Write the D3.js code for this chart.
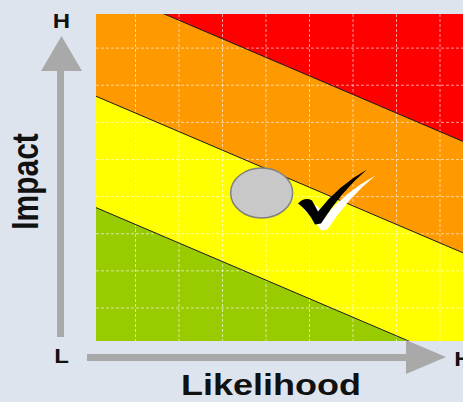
<!DOCTYPE html>
<html>
<head>
<meta charset="utf-8">
<script src="https://cdn.jsdelivr.net/npm/d3@7"></script>
<style>
  html, body { margin: 0; padding: 0; background: #dee4ed; }
  svg { display: block; }
</style>
</head>
<body>
<svg id="chart" width="463" height="402"></svg>
<script>
// Risk matrix: likelihood (x) versus impact (y), both on a 0-10 / 0-9 grid.
const likelihoodGrid = [1, 2, 3, 4, 5, 6, 7, 8];
const impactGrid = [1, 2, 3, 4, 5, 6, 7, 8];

// Zones are bounded by diagonal lines impact = floor - 0.5 * likelihood
const zoneNames = ["Low", "Medium", "High", "Extreme"];
const zoneFloors = [-20, 3.75, 6.75, 9.75];
const zoneCeilings = [3.75, 6.75, 9.75, 40];
const zoneSlope = -0.5;

// Assessed risk and its acceptance mark
const riskLikelihood = [3.9];
const riskImpact = [4.1];
const acceptLikelihood = [5.15];
const acceptImpact = [3.25];

const axisEndLabels = ["L", "H"];
const axisTitles = ["Likelihood", "Impact"];

const zoneColor = d3.scaleOrdinal()
  .domain(zoneNames)
  .range(["#99cc00", "#ffff00", "#ff9900", "#ff0000"]);

const svg = d3.select("#chart");

const plot = { left: 96, top: 14, right: 480, bottom: 341 };
const x = d3.scaleLinear().domain([0, 10]).range([92, 527]);
const y = d3.scaleLinear().domain([0, 9]).range([345.1, 11]);

svg.append("defs").append("clipPath").attr("id", "plotClip")
  .append("rect")
  .attr("x", plot.left).attr("y", plot.top)
  .attr("width", plot.right - plot.left).attr("height", plot.bottom - plot.top);

const g = svg.append("g").attr("clip-path", "url(#plotClip)");

// coloured zones
const xs = [0, 10];
zoneNames.forEach((name, i) => {
  const area = d3.area()
    .x(d => x(d))
    .y0(d => y(zoneFloors[i] + zoneSlope * d))
    .y1(d => y(zoneCeilings[i] + zoneSlope * d));
  g.append("path")
    .attr("d", area(xs))
    .attr("fill", zoneColor(name));
});

// dashed grid
g.selectAll("line.vgrid").data(likelihoodGrid).join("line")
  .attr("class", "vgrid")
  .attr("x1", d => x(d)).attr("x2", d => x(d))
  .attr("y1", plot.top).attr("y2", plot.bottom)
  .attr("stroke", "rgba(255,255,255,0.6)")
  .attr("stroke-width", 1)
  .attr("stroke-dasharray", "3,2");
g.selectAll("line.hgrid").data(impactGrid).join("line")
  .attr("class", "hgrid")
  .attr("x1", plot.left).attr("x2", plot.right)
  .attr("y1", d => y(d)).attr("y2", d => y(d))
  .attr("stroke", "rgba(255,255,255,0.6)")
  .attr("stroke-width", 1)
  .attr("stroke-dasharray", "3,2");

// zone boundaries
const boundary = d3.line().x(d => x(d.u)).y(d => y(d.v));
zoneFloors.slice(1).forEach(c => {
  g.append("path")
    .attr("d", boundary(xs.map(u => ({ u, v: c + zoneSlope * u }))))
    .attr("fill", "none")
    .attr("stroke", "#1a1a1a")
    .attr("stroke-width", 1);
});

// risk marker
g.selectAll("ellipse.risk").data(riskLikelihood).join("ellipse")
  .attr("class", "risk")
  .attr("cx", (d, i) => x(d))
  .attr("cy", (d, i) => y(riskImpact[i]))
  .attr("rx", 31).attr("ry", 25)
  .attr("fill", "#c8c8c8")
  .attr("stroke", "#808080")
  .attr("stroke-width", 1.5);

// check mark (brush stroke with white highlight), anchored at its lowest point
const checkShape = "M-18,-21 Q-11,-28 -4,-24 L2,-13 Q22,-39 51,-55 Q26,-34 5,-1 L-1,0 Q-8,-14 -18,-21 Z";
acceptLikelihood.forEach((d, i) => {
  const cg = g.append("g")
    .attr("transform", `translate(${x(d)},${y(acceptImpact[i])})`);
  cg.append("path").attr("d", checkShape)
    .attr("transform", "translate(6,6) scale(1.05,1)")
    .attr("fill", "#ffffff");
  cg.append("path").attr("d", checkShape)
    .attr("fill", "#000000");
});

// axis arrows
const arrowGrey = "#a9a9a9";
svg.append("rect").attr("x", 57).attr("y", 70).attr("width", 7).attr("height", 267).attr("fill", arrowGrey);
svg.append("path").attr("d", "M61.5,36 L41,71 L82,71 Z").attr("fill", arrowGrey);
svg.append("rect").attr("x", 87).attr("y", 354).attr("width", 320).attr("height", 7).attr("fill", arrowGrey);
svg.append("path").attr("d", "M446,357 L406,340 L406,374 Z").attr("fill", arrowGrey);

// labels (Arial-like, slightly widened)
const font = "'Liberation Sans', Arial, sans-serif";
function label(text, tx, ty, size, rotate) {
  svg.append("text")
    .attr("transform", `translate(${tx},${ty}) scale(1.2,1)` + (rotate ? " rotate(-90)" : ""))
    .attr("text-anchor", "middle")
    .attr("font-family", font)
    .attr("font-weight", "bold")
    .attr("font-size", size)
    .attr("fill", "#111")
    .text(text);
}
label(axisEndLabels[1], 61.5, 27.5, 20, false);
label(axisEndLabels[0], 61.5, 363, 20, false);
label(axisEndLabels[1], 463, 366, 20, false);
label(axisTitles[0], 271, 395, 30, false);
label(axisTitles[1], 38, 181.5, 30, true);
</script>
</body>
</html>
